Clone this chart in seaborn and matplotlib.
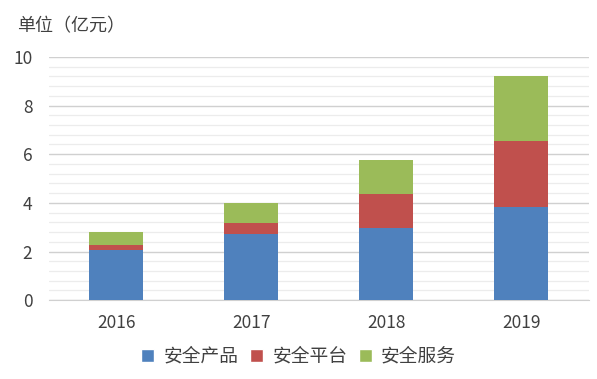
import pandas as pd
import seaborn as sns
import matplotlib.pyplot as plt
from matplotlib.ticker import MultipleLocator
from matplotlib.patches import Patch

years = ['2016', '2017', '2018', '2019']
product = [2.07, 2.70, 2.96, 3.82]
platform = [0.18, 0.49, 1.41, 2.74]
service = [0.57, 0.81, 1.40, 2.64]
series_names = ['安全产品', '安全平台', '安全服务']
colors = ['#4F81BD', '#C0504D', '#9BBB59']

df = pd.DataFrame({'year': years, 'product': product, 'platform': platform, 'service': service})
df['lvl2'] = df['product'] + df['platform']
df['lvl3'] = df['lvl2'] + df['service']

sns.set_style('white')
plt.rcParams['font.family'] = ['Noto Sans CJK SC', 'DejaVu Sans']

fig = plt.figure(figsize=(5.97, 3.79), dpi=100)
ax = fig.add_axes([0.082, 0.208, 0.904, 0.642])

# stacked bars: draw totals first, then overlay lower levels
for col, c in zip(['lvl3', 'lvl2', 'product'], colors[::-1]):
    sns.barplot(data=df, x='year', y=col, color=c, width=0.4, ax=ax, saturation=1,
                linewidth=0, zorder=3)

ax.set_ylim(0, 10)
ax.set_xlim(-0.5, 3.5)
ax.yaxis.set_major_locator(MultipleLocator(2))
ax.yaxis.set_minor_locator(MultipleLocator(0.4))
ax.grid(axis='y', which='major', color='#d0d0d0', linewidth=1.0, zorder=0)
ax.grid(axis='y', which='minor', color='#ececec', linewidth=0.9, zorder=0)
ax.set_axisbelow(True)
ax.set_xlabel('')
ax.set_ylabel('')
for s in ['top', 'right', 'left']:
    ax.spines[s].set_visible(False)
ax.spines['bottom'].set_color('#d0d0d0')
ax.tick_params(axis='both', which='both', length=0, labelsize=12.5, colors='#404040')
ax.tick_params(axis='y', pad=12)
ax.tick_params(axis='x', pad=10)

fig.text(0.028, 0.93, '单位（亿元）', fontsize=13, color='#404040', va='center')

handles = [Patch(facecolor=c, label=n) for c, n in zip(colors, series_names)]
fig.legend(handles=handles, loc='center', bbox_to_anchor=(0.5, 0.06), ncol=3, frameon=False,
           fontsize=13.5, handlelength=0.7, handleheight=0.7, handletextpad=0.5, columnspacing=0.6,
           labelcolor='#404040')

fig.savefig('out.png', dpi=100)
